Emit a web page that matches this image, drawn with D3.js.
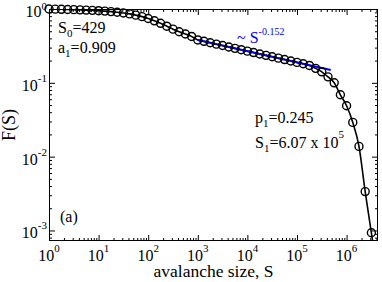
<!DOCTYPE html>
<html><head><meta charset="utf-8">
<script src="https://cdn.jsdelivr.net/npm/d3@7"></script>
<style>
html,body{margin:0;padding:0;background:#fff;}
svg{display:block;}
svg text{font-family:"Liberation Serif","Times New Roman",serif;}
</style></head>
<body>
<svg id="chart" width="382" height="282"></svg>
<script>
// ---- data ----
const sizes = [1,1.334,1.778,2.371,3.162,4.217,5.623,7.499,10,13.34,17.78,23.71,31.62,42.17,56.23,74.99,
  100,133.4,177.8,237.1,316.2,421.7,562.3,749.9,1000,1334,1778,2371,3162,4217,5623,7499,
  1e4,13340,17780,23710,31620,42170,56230,74990,1e5,133400,177800,237100,316200,421700,562300,749900,
  1e6,1334000,1778000,2371000,3162000];
const Fvalues = [1.0,0.995,0.990,0.985,0.980,0.974,0.967,0.959,0.949,0.937,0.922,0.904,0.883,0.858,0.826,0.788,
  0.744,0.692,0.640,0.585,0.533,0.492,0.459,0.425,0.381,0.365,0.349,0.334,0.320,0.306,0.293,0.281,
  0.2685,0.257,0.246,0.2355,0.2254,0.2158,0.2065,0.1977,0.1892,0.181,0.172,0.157,0.141,0.1205,0.100,0.0689,
  0.0489,0.0291,0.01377,0.00336,0.00093];
const fitTailS = [3.6e6];
const fitTailF = [5.2e-4];
const powerS = [1000, 480000];
const powerExponent = -0.152;
const powerPrefactor = 1.089;
const xMajor = [1,10,100,1000,1e4,1e5,1e6];
const xMajorExp = ["0","1","2","3","4","5","6"];
const yMajor = [1,0.1,0.01,0.001];
const yMajorExp = ["0","-1","-2","-3"];

// ---- layout ----
const L = 49, R = 378, T = 9, B = 241;
const svg = d3.select("#chart");
const x = d3.scaleLog().domain([1, 4.3e6]).range([L, R]);
const y = d3.scaleLog().domain([7.2e-4, 1]).range([B, T]);
const FONT = "Liberation Serif";

svg.append("defs").append("clipPath").attr("id","clip")
  .append("rect").attr("x",L).attr("y",T).attr("width",R-L).attr("height",B-T);

const xMinor = [];
for (let d = 0; d <= 6; d++) for (let m = 2; m <= 9; m++) { const v = m*Math.pow(10,d); if (v < 4.3e6) xMinor.push(v); }
const yMinor = [];
for (let d = -4; d <= -1; d++) for (let m = 2; m <= 9; m++) { const v = m*Math.pow(10,d); if (v > 7.2e-4 && v < 1) yMinor.push(v); }

function axisStyle(g){ g.select(".domain").remove(); g.selectAll("line").attr("stroke","#000").attr("stroke-width",1); g.selectAll("text").remove(); }

svg.append("g").attr("transform",`translate(0,${B})`).call(d3.axisBottom(x).tickValues(xMajor).tickSize(-6).tickFormat("")).call(axisStyle);
svg.append("g").attr("transform",`translate(0,${B})`).call(d3.axisBottom(x).tickValues(xMinor).tickSize(-3).tickFormat("")).call(axisStyle);
svg.append("g").attr("transform",`translate(0,${T})`).call(d3.axisTop(x).tickValues(xMajor).tickSize(-6).tickFormat("")).call(axisStyle);
svg.append("g").attr("transform",`translate(0,${T})`).call(d3.axisTop(x).tickValues(xMinor).tickSize(-3).tickFormat("")).call(axisStyle);
svg.append("g").attr("transform",`translate(${L},0)`).call(d3.axisLeft(y).tickValues(yMajor).tickSize(-6).tickFormat("")).call(axisStyle);
svg.append("g").attr("transform",`translate(${L},0)`).call(d3.axisLeft(y).tickValues(yMinor).tickSize(-3).tickFormat("")).call(axisStyle);
svg.append("g").attr("transform",`translate(${R},0)`).call(d3.axisRight(y).tickValues(yMajor).tickSize(-6).tickFormat("")).call(axisStyle);
svg.append("g").attr("transform",`translate(${R},0)`).call(d3.axisRight(y).tickValues(yMinor).tickSize(-3).tickFormat("")).call(axisStyle);

svg.append("rect").attr("x",L+0.5).attr("y",T+0.5).attr("width",R-L-1).attr("height",B-T-1)
  .attr("fill","none").attr("stroke","#000").attr("stroke-width",1);

// tick labels
xMajor.forEach((v,i)=>{
  const t = svg.append("text").attr("x",x(v)).attr("y",261).attr("text-anchor","middle")
    .attr("font-family",FONT).attr("font-size",16).attr("fill","#000");
  t.append("tspan").text("10");
  t.append("tspan").attr("dy",-9).attr("font-size",11).text(xMajorExp[i]);
});
yMajor.forEach((v,i)=>{
  const t = svg.append("text").attr("x",47).attr("y",y(v)+8).attr("text-anchor","end")
    .attr("font-family",FONT).attr("font-size",16).attr("fill","#000");
  t.append("tspan").text("10");
  t.append("tspan").attr("dy",i === 0 ? -7 : -9).attr("font-size",11).text(yMajorExp[i]);
});

// axis titles
svg.append("text").attr("x",(L+R)/2).attr("y",277).attr("text-anchor","middle")
  .attr("font-family",FONT).attr("font-size",17.5).text("avalanche size, S");
svg.append("text").attr("transform",`translate(15,${(T+B)/2}) rotate(-90)`).attr("text-anchor","middle")
  .attr("font-family",FONT).attr("font-size",18).text("F(S)");

const plot = svg.append("g").attr("clip-path","url(#clip)");

const linePts = sizes.map((s,i)=>[s,Fvalues[i]]).concat(fitTailS.map((s,i)=>[s,fitTailF[i]]));
plot.append("path").datum(linePts)
  .attr("d", d3.line().x(d=>x(d[0])).y(d=>y(d[1])).curve(d3.curveMonotoneX))
  .attr("fill","none").attr("stroke","#000").attr("stroke-width",1.6);

plot.append("path").datum(powerS)
  .attr("d", d3.line().x(d=>x(d)).y(d=>y(powerPrefactor*Math.pow(d,powerExponent))))
  .attr("fill","none").attr("stroke","#0000ff").attr("stroke-width",2);

svg.append("g").selectAll("circle").data(sizes).join("circle")
  .attr("cx",d=>x(d)).attr("cy",(d,i)=>y(Fvalues[i])).attr("r",4)
  .attr("fill","none").attr("stroke","#000").attr("stroke-width",1.4);

// annotations
function sub(t, main, s, rest){ t.append("tspan").text(main); t.append("tspan").attr("font-size",11).attr("dy",4).text(s); t.append("tspan").attr("dy",-4).text(rest); }
function ann(xp, yp){ return svg.append("text").attr("x",xp).attr("y",yp).attr("font-family",FONT).attr("font-size",16).attr("fill","#000"); }
sub(ann(58,33),"S","0","=429");
sub(ann(58,53),"a","1","=0.909");
sub(ann(255,123),"p","1","=0.245");
const t4 = ann(255,148); sub(t4,"S","1","=6.07 x 10");
t4.append("tspan").attr("font-size",11).attr("dy",-10).text("5");
const t5 = ann(237,43).attr("fill","#0000ff");
t5.append("tspan").text("~ S");
t5.append("tspan").attr("font-size",10).attr("dy",-8).text("-0.152");
ann(60,222).text("(a)");
</script>
</body></html>
